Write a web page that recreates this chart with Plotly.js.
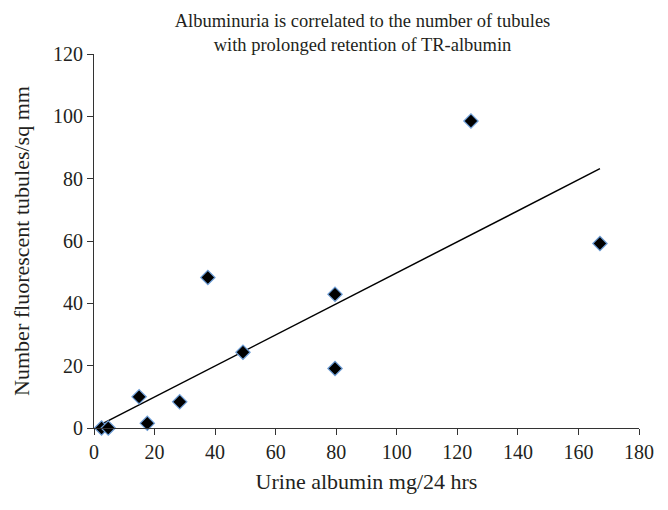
<!DOCTYPE html>
<html>
<head>
<meta charset="utf-8">
<script src="https://cdn.plot.ly/plotly-3.0.1.min.js"></script>
<style>html,body{margin:0;padding:0;background:#fff;}#chart{width:668px;height:510px;}</style>
</head>
<body>
<div id="chart"></div>
<script>
// Data
const urineAlbumin = [2.5, 4.7, 17.6, 14.9, 28.3, 37.6, 49.2, 79.6, 79.6, 124.5, 167.1];
const fluorescentTubules = [0, 0, 1.5, 10.0, 8.4, 48.3, 24.3, 42.9, 19.1, 98.5, 59.2];
const xTickVals = [0, 20, 40, 60, 80, 100, 120, 140, 160, 180];
const yTickVals = [0, 20, 40, 60, 80, 100, 120];

// Linear trendline through the origin (least squares), drawn from min to max x
let sxy = 0, sxx = 0;
for (let i = 0; i < urineAlbumin.length; i++) {
  sxy += urineAlbumin[i] * fluorescentTubules[i];
  sxx += urineAlbumin[i] * urineAlbumin[i];
}
const slope = sxy / sxx;
const xMin = Math.min(...urineAlbumin), xMax = Math.max(...urineAlbumin);
const trendX = [xMin, xMax];
const trendY = trendX.map(v => slope * v);

const serif = '"Liberation Serif", "DejaVu Serif", serif';
const ink = '#231f20';

const traces = [
  {
    x: trendX, y: trendY, type: 'scatter', mode: 'lines',
    line: {color: '#000000', width: 1.5}, hoverinfo: 'skip', showlegend: false
  },
  {
    x: urineAlbumin, y: fluorescentTubules, type: 'scatter', mode: 'markers',
    marker: {symbol: 'diamond', size: 11, color: '#000000', line: {color: '#6f9fd8', width: 1.2}},
    showlegend: false, cliponaxis: false
  }
];

const layout = {
  width: 668, height: 510,
  paper_bgcolor: '#ffffff', plot_bgcolor: '#ffffff',
  margin: {l: 94, r: 29, t: 54, b: 82},
  font: {family: serif, color: ink},
  title: {
    text: 'Albuminuria is correlated to the number of tubules<br>with prolonged retention of TR-albumin',
    font: {family: serif, size: 18.5, color: ink},
    xref: 'container', yref: 'container',
    x: 0.5427, xanchor: 'center', y: 0.948, yanchor: 'middle'
  },
  xaxis: {
    range: [0, 180], tickvals: xTickVals, ticktext: xTickVals.map(String),
    showgrid: false, zeroline: false, showline: true, linecolor: '#333333', linewidth: 1,
    ticks: 'outside', ticklen: 6, tickcolor: '#333333',
    tickfont: {family: serif, size: 20, color: ink},
    title: {text: 'Urine albumin mg/24 hrs', font: {family: serif, size: 22, color: ink}, standoff: 11}
  },
  yaxis: {
    range: [0, 120], tickvals: yTickVals, ticktext: yTickVals.map(String),
    showgrid: false, zeroline: false, showline: true, linecolor: '#333333', linewidth: 1,
    ticks: 'outside', ticklen: 6, tickcolor: '#333333',
    tickfont: {family: serif, size: 20, color: ink},
    title: {text: 'Number fluorescent tubules/sq mm', font: {family: serif, size: 22, color: ink}, standoff: 17}
  }
};

Plotly.newPlot('chart', traces, layout, {staticPlot: true, displayModeBar: false});
</script>
</body>
</html>
